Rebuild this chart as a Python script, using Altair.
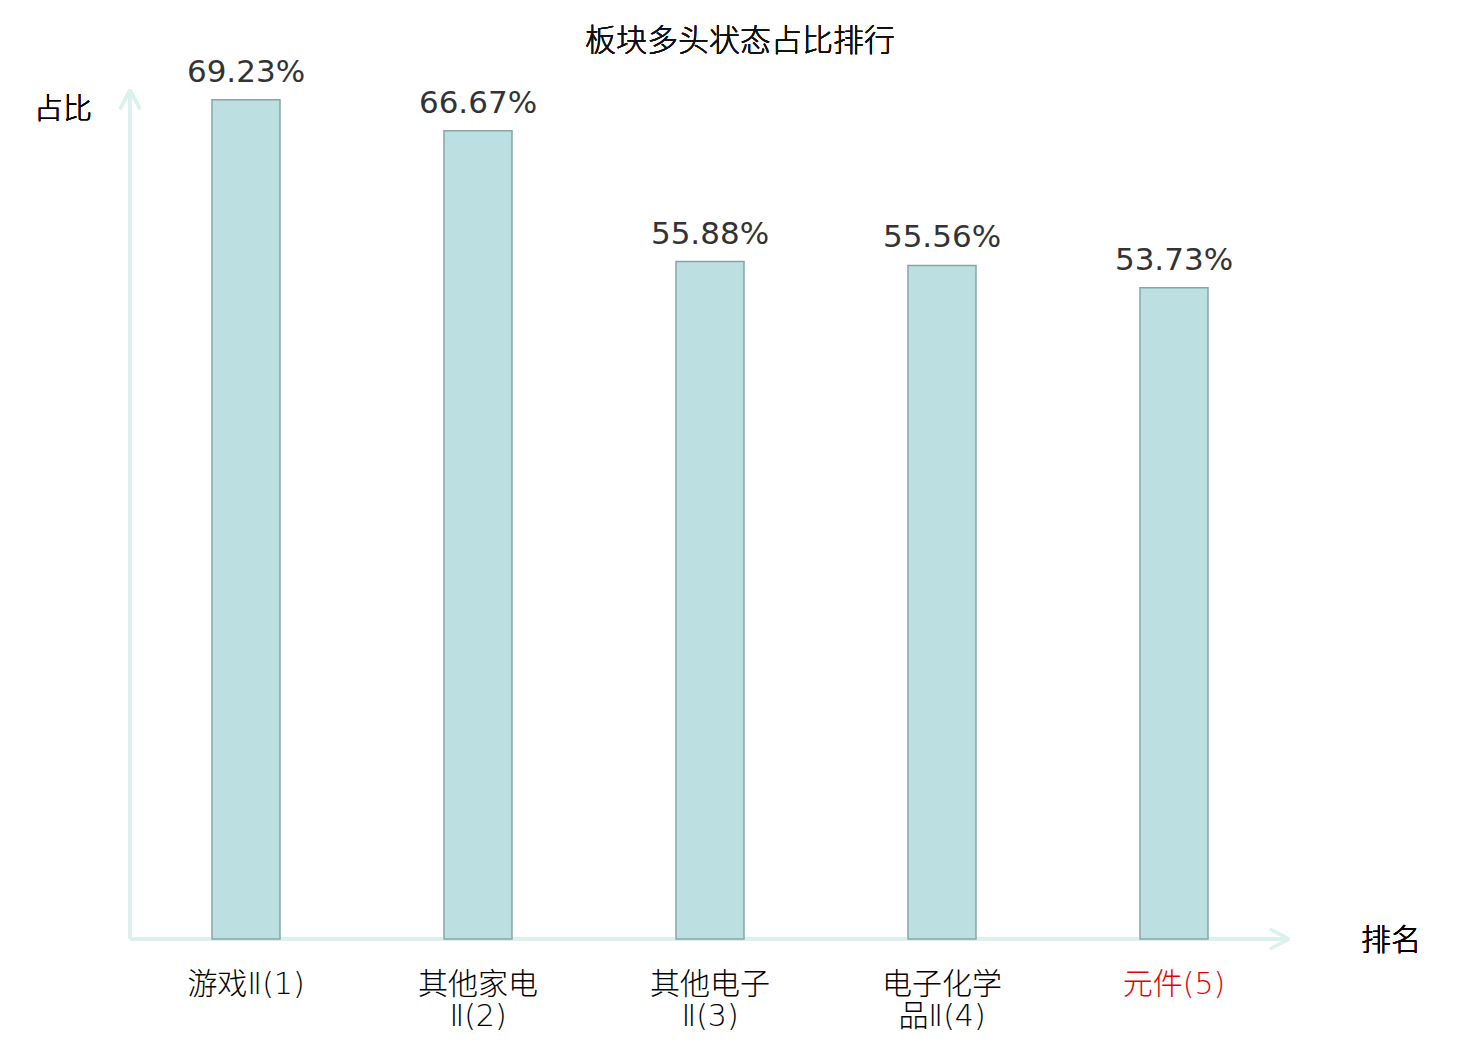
import altair as alt
import pandas as pd

categories = ["游戏Ⅱ(1)", "其他家电Ⅱ(2)", "其他电子Ⅱ(3)", "电子化学品Ⅱ(4)", "元件(5)"]
label_lines = [["游戏Ⅱ(1)"], ["其他家电", "Ⅱ(2)"], ["其他电子", "Ⅱ(3)"], ["电子化学", "品Ⅱ(4)"], ["元件(5)"]]
values = [69.23, 66.67, 55.88, 55.56, 53.73]
label_colors = ["#000000", "#000000", "#000000", "#000000", "#e00000"]

df = pd.DataFrame({
    "cat": categories,
    "value": values,
    "label": ["\n".join(l) for l in label_lines],
    "vtext": [f"{v:.2f}%" for v in values],
    "lcolor": label_colors,
})

W, H = 1160, 851
AX = "#dcf1ee"
FONT = "Noto Sans CJK SC"
LFONT = "DejaVu Sans, Noto Sans CJK SC"
FW = 300

x = alt.X("cat:N", sort=categories, axis=None,
          scale=alt.Scale(paddingInner=0.707, paddingOuter=0.3535))
y = alt.Y("value:Q", axis=None, scale=alt.Scale(domain=[0, 70.2], nice=False, zero=True))

base = alt.Chart(df)

def seg(x1, y1, x2, y2):
    return base.mark_rule(stroke=AX, strokeWidth=3).encode(
        x=alt.value(x1), y=alt.value(y1), x2=alt.value(x2), y2=alt.value(y2))

axes = [
    seg(0, H, 0, 2), seg(0, 2, -10, 21), seg(0, 2, 10, 21),
    seg(0, H, W - 1, H), seg(W - 1, H, W - 20, H - 10), seg(W - 1, H, W - 20, H + 10),
]

bars = base.mark_bar(fill="#bce0e2", stroke="#88a5a6", strokeWidth=1.5).encode(
    x=x, y=y, size=alt.value(68))

vlabels = base.mark_text(fontSize=31, font="DejaVu Sans", color="#333333",
                         baseline="alphabetic", dy=-18).encode(x=x, y=y, text="vtext:N")

xlabels = base.mark_text(fontSize=30, font=LFONT, fontWeight=FW, baseline="alphabetic",
                         lineBreak="\n", lineHeight=32).encode(
    x=x, y=alt.value(H + 55), text="label:N",
    color=alt.Color("lcolor:N", scale=None))

title = base.mark_text(text="板块多头状态占比排行", fontSize=31, font=FONT, fontWeight=FW,
                       color="#111111", baseline="middle").encode(x=alt.value(610), y=alt.value(-46))
ylab = base.mark_text(text="占比", fontSize=29, font=FONT, fontWeight=FW, color="#000000",
                      baseline="middle").encode(x=alt.value(-67), y=alt.value(22))
xlab = base.mark_text(text="排名", fontSize=30, font=FONT, fontWeight=FW, color="#000000",
                      baseline="middle").encode(x=alt.value(1261), y=alt.value(H + 2))

chart = alt.layer(*axes, bars, vlabels, xlabels, title, ylab, xlab).properties(
    width=W, height=H,
    background="white",
    autosize=alt.AutoSizeParams(type="none"),
    padding={"left": 122, "top": 80, "right": 180, "bottom": 95},
).configure_view(strokeWidth=0, stroke=None)

chart.save("out.html", embed_options={"renderer": "svg", "actions": False})
